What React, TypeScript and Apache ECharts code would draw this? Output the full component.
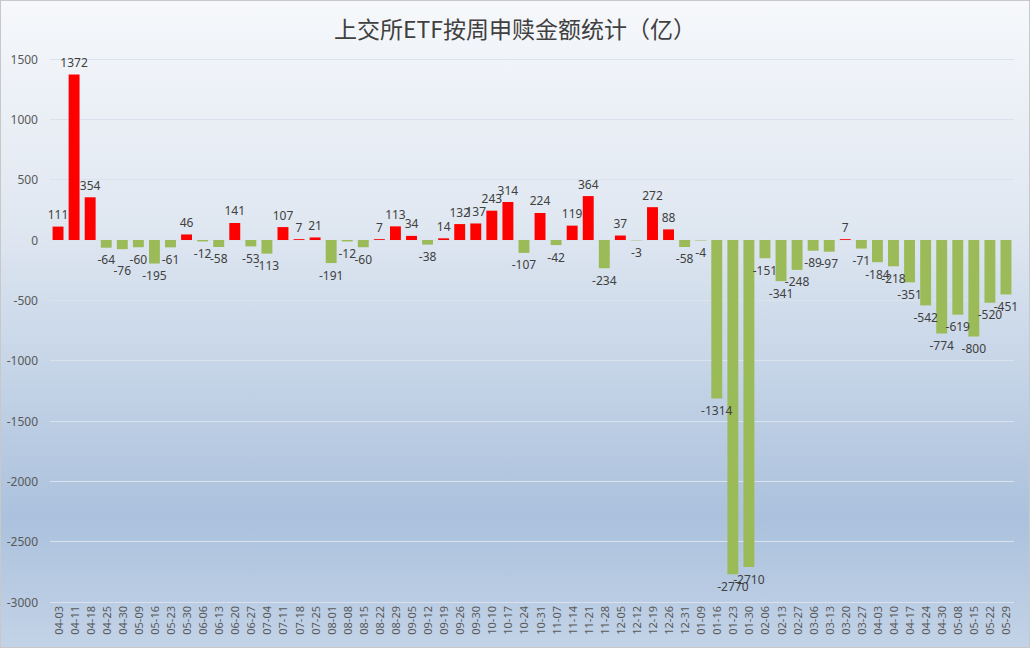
import { useEffect, useRef } from 'react';
import * as echarts from 'echarts';

const weeks = [
  '04-03', '04-11', '04-18', '04-25', '04-30', '05-09', '05-16', '05-23', '05-30', '06-06',
  '06-13', '06-20', '06-27', '07-04', '07-11', '07-18', '07-25', '08-01', '08-08', '08-15',
  '08-22', '08-29', '09-05', '09-12', '09-19', '09-26', '09-30', '10-10', '10-17', '10-24',
  '10-31', '11-07', '11-14', '11-21', '11-28', '12-05', '12-12', '12-19', '12-26', '12-31',
  '01-09', '01-16', '01-23', '01-30', '02-06', '02-13', '02-27', '03-06', '03-13', '03-20',
  '03-27', '04-03', '04-10', '04-17', '04-24', '04-30', '05-08', '05-15', '05-22', '05-29',
];

const flows = [
  111, 1372, 354, -64, -76, -60, -195, -61, 46, -12,
  -58, 141, -53, -113, 107, 7, 21, -191, -12, -60,
  7, 113, 34, -38, 14, 132, 137, 243, 314, -107,
  224, -42, 119, 364, -234, 37, -3, 272, 88, -58,
  -4, -1314, -2770, -2710, -151, -341, -248, -89, -97, 7,
  -71, -184, -218, -351, -542, -774, -619, -800, -520, -451,
];

const INFLOW = '#ff0000';
const OUTFLOW = '#9bbb59';

export default function App() {
  const chartRef = useRef<HTMLDivElement>(null);

  useEffect(() => {
    if (!chartRef.current) return;
    const chart = echarts.init(chartRef.current, null, { renderer: 'svg' });

    const option = {
      animation: false,
      backgroundColor: {
        type: 'linear',
        x: 0, y: 0, x2: 0, y2: 1,
        colorStops: [
          { offset: 0, color: '#f6f8fb' },
          { offset: 0.35, color: '#dfe7f1' },
          { offset: 0.8, color: '#abc1dd' },
          { offset: 1, color: '#c3d3e7' },
        ],
      },
      title: {
        text: '上交所ETF按周申赎金额统计（亿）',
        left: 'center',
        top: 10,
        textStyle: {
          fontFamily: 'Noto Sans CJK SC',
          fontSize: 23,
          fontWeight: 'normal',
          color: '#404040',
        },
      },
      grid: { left: 49, right: 15, top: 58, bottom: 45 },
      xAxis: {
        type: 'category',
        data: weeks,
        axisLine: { onZero: false, show: false },
        axisTick: { show: false },
        axisLabel: {
          rotate: 90,
          interval: 0,
          fontSize: 11,
          color: '#595959',
          fontFamily: 'Noto Sans',
          margin: 4,
        },
      },
      yAxis: {
        type: 'value',
        min: -3000,
        max: 1500,
        interval: 500,
        axisLine: { show: false },
        axisTick: { show: false },
        axisLabel: {
          fontSize: 12,
          color: '#595959',
          fontFamily: 'Noto Sans',
          margin: 12,
          formatter: (v: number) => String(v),
        },
        splitLine: { lineStyle: { color: '#dae2ed', width: 1 } },
      },
      series: [
        {
          type: 'bar',
          barCategoryGap: '32%',
          data: flows.map((v, i) => ({
            value: v,
            itemStyle: { color: v >= 0 ? INFLOW : OUTFLOW },
            label: {
              position: v >= 0 ? 'top' : 'bottom',
              // the 2nd week's "-76" sits a little lower in the original, clear of its neighbours
              offset: [0, i === 4 ? 9 : 0],
            },
          })),
          label: {
            show: true,
            fontSize: 12,
            color: '#404040',
            fontFamily: 'Noto Sans',
            distance: 6,
          },
        },
      ],
    };

    chart.setOption(option);
    return () => {
      chart.dispose();
    };
  }, []);

  return (
    <div
      ref={chartRef}
      style={{
        position: 'fixed',
        left: 0,
        top: 0,
        width: 1030,
        height: 648,
        boxSizing: 'border-box',
        border: '1px solid #c8c8c8',
      }}
    ></div>
  );
}
